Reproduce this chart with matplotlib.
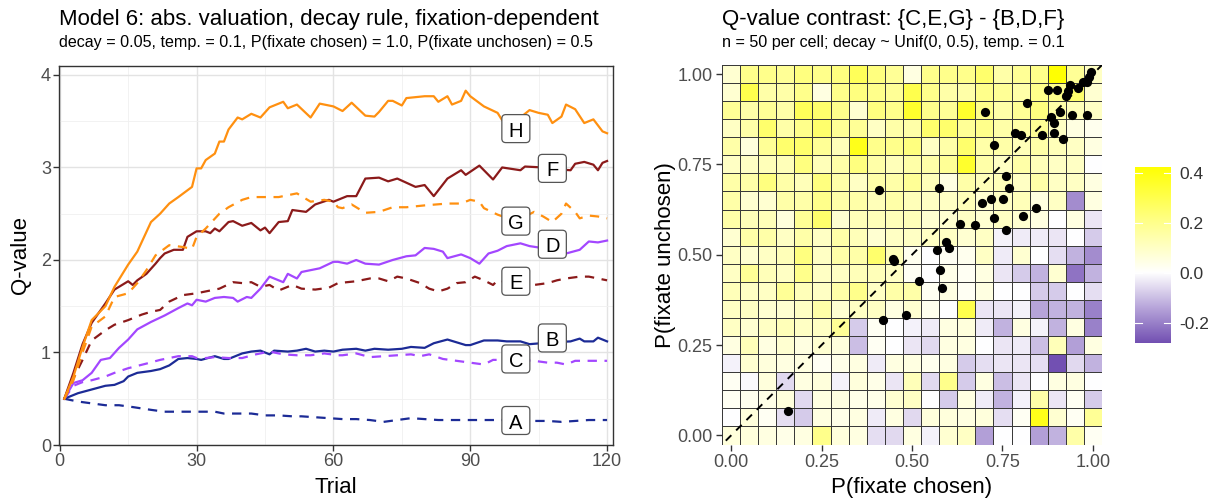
import numpy as np
import matplotlib
matplotlib.use('Agg')
import matplotlib.pyplot as plt
from matplotlib.colors import LinearSegmentedColormap, Normalize
from matplotlib.patches import FancyBboxPatch

plt.rcParams['font.family'] = ['Liberation Sans', 'DejaVu Sans']

# ---------------- left panel data ----------------
A_t = [1,4,7,10,13,16,20,23,26,29,32,34,36,39,42,45,48,51,53,56,59,62,65,68,71,74,77,80,83,85,88,91,94,100,104,107,110,113,116,120]
A_q = [0.50,0.47,0.45,0.43,0.43,0.41,0.38,0.36,0.36,0.36,0.36,0.36,0.34,0.34,0.34,0.32,0.32,0.31,0.31,0.30,0.29,0.28,0.28,0.27,0.25,0.27,0.29,0.28,0.27,0.27,0.27,0.27,0.27,0.27,0.26,0.26,0.25,0.26,0.27,0.27]

B_t = [1,2,4,7,10,12,14,15,17,20,22,24,26,28,30,31,34,36,37,40,42,44,46,47,50,52,54,56,58,60,62,65,67,69,72,75,77,80,82,85,87,89,90,93,96,98,101,103,108,112,114,115,117,118,120]
B_q = [0.50,0.52,0.56,0.60,0.64,0.65,0.69,0.74,0.78,0.80,0.82,0.86,0.93,0.94,0.93,0.92,0.96,0.93,0.93,0.99,1.01,1.02,0.98,1.02,1.01,1.02,1.04,1.01,1.02,1.01,1.03,1.04,1.02,1.04,1.03,1.04,1.06,1.05,1.10,1.14,1.11,1.08,1.08,1.13,1.13,1.12,1.12,1.09,1.11,1.12,1.15,1.12,1.12,1.16,1.12]

C_t = [1,3,5,7,10,12,15,19,22,26,29,30,32,34,37,40,43,46,49,52,55,58,61,62,65,68,71,74,77,79,81,84,87,90,93,95,100,104,107,109,111,113,115,118,120]
C_q = [0.50,0.64,0.68,0.70,0.74,0.78,0.83,0.88,0.92,0.96,0.96,0.94,0.94,0.95,0.94,0.94,0.98,1.01,0.98,0.97,0.97,0.99,0.97,0.97,0.99,0.95,0.96,0.97,0.98,0.96,0.98,0.93,0.91,0.89,0.87,0.92,0.92,0.91,0.89,0.89,0.87,0.91,0.91,0.91,0.91]

D_t = [1,3,5,7,9,11,13,15,17,20,23,26,28,29,30,32,34,36,38,39,41,42,44,46,48,49,50,52,53,55,57,60,61,63,65,67,70,73,76,78,80,82,84,85,88,90,92,94,96,98,101,103,107,111,114,116,118,120]
D_q = [0.50,0.67,0.70,0.78,0.92,0.94,1.05,1.14,1.25,1.33,1.40,1.48,1.53,1.51,1.57,1.55,1.59,1.60,1.59,1.55,1.60,1.59,1.69,1.82,1.78,1.76,1.85,1.80,1.87,1.89,1.91,1.98,1.98,1.96,2.00,1.96,1.95,2.00,2.04,2.05,2.13,2.12,2.09,2.02,2.06,2.02,1.96,2.07,2.10,2.15,2.18,2.15,2.12,2.07,2.11,2.20,2.19,2.21]

E_t = [1,3,5,7,10,12,15,18,20,22,24,27,30,32,35,38,40,42,44,46,48,51,53,56,59,61,63,65,68,70,72,74,76,79,81,83,85,87,89,91,93,95,96,100,104,107,109,111,114,116,118,120]
E_q = [0.50,0.72,0.92,1.13,1.24,1.30,1.35,1.41,1.44,1.46,1.55,1.62,1.64,1.66,1.69,1.76,1.75,1.76,1.71,1.73,1.67,1.73,1.69,1.68,1.70,1.75,1.76,1.77,1.80,1.80,1.77,1.82,1.80,1.75,1.69,1.66,1.69,1.75,1.76,1.82,1.78,1.73,1.78,1.74,1.73,1.75,1.78,1.80,1.82,1.82,1.80,1.78]

F_t = [1,3,5,7,10,12,15,16,17,19,21,22,23,25,27,28,30,32,33,34,35,37,38,40,42,44,45,46,48,50,51,54,56,59,60,63,65,67,70,72,74,78,80,82,85,88,89,92,95,97,101,102,106,109,112,113,115,117,118,119,120]
F_q = [0.50,0.78,1.09,1.32,1.53,1.68,1.77,1.73,1.78,1.85,1.96,2.02,2.07,2.11,2.11,2.25,2.31,2.31,2.29,2.34,2.31,2.41,2.42,2.37,2.40,2.32,2.35,2.29,2.41,2.42,2.54,2.52,2.60,2.65,2.63,2.69,2.69,2.88,2.89,2.85,2.88,2.79,2.81,2.69,2.88,2.97,2.92,3.02,2.87,3.00,2.97,3.01,3.00,2.98,2.97,3.04,3.06,3.03,2.97,3.05,3.07]

G_t = [1,3,5,7,10,12,15,17,19,21,24,27,29,30,32,35,37,40,42,45,48,52,55,58,60,61,62,64,67,70,73,76,80,85,88,90,92,93,96,100,104,106,108,110,111,113,114,116,118,120]
G_q = [0.50,0.70,1.00,1.28,1.39,1.60,1.64,1.75,1.89,2.05,2.16,2.14,2.12,2.25,2.34,2.50,2.57,2.65,2.68,2.68,2.68,2.72,2.63,2.65,2.63,2.57,2.56,2.60,2.51,2.52,2.57,2.57,2.59,2.61,2.61,2.65,2.63,2.56,2.49,2.42,2.52,2.47,2.41,2.50,2.61,2.52,2.45,2.48,2.47,2.45]

H_t = [1,3,5,7,10,12,15,17,20,22,24,26,29,30,31,32,34,35,36,37,39,40,42,44,46,49,50,52,55,57,60,62,64,67,69,70,72,73,75,76,80,82,83,85,86,88,89,90,93,96,97,100,103,105,107,108,110,111,113,115,117,119,120]
H_q = [0.50,0.74,1.06,1.35,1.50,1.71,1.95,2.09,2.41,2.50,2.61,2.68,2.79,2.99,2.99,3.08,3.15,3.28,3.28,3.41,3.54,3.52,3.58,3.54,3.65,3.71,3.64,3.68,3.54,3.69,3.66,3.61,3.70,3.56,3.55,3.60,3.72,3.72,3.67,3.75,3.77,3.77,3.71,3.77,3.68,3.72,3.83,3.77,3.66,3.59,3.51,3.50,3.62,3.59,3.57,3.48,3.55,3.68,3.63,3.48,3.52,3.39,3.37]

series_names = ['A', 'B', 'C', 'D', 'E', 'F', 'G', 'H']
series_t = [A_t, B_t, C_t, D_t, E_t, F_t, G_t, H_t]
series_q = [A_q, B_q, C_q, D_q, E_q, F_q, G_q, H_q]
series_colors = ['#1C2B96', '#1C2B96', '#A347FF', '#A347FF',
                 '#8B1A1A', '#8B1A1A', '#FF9010', '#FF9010']
series_dashed = [True, False, True, False, True, False, True, False]
label_x = [100, 108, 100, 108, 100, 108, 100, 100]
label_y = [0.265, 1.157, 0.93, 2.17, 1.77, 2.99, 2.42, 3.42]

# ---------------- right panel data ----------------
grid_vals = [0.00, 0.05, 0.10, 0.15, 0.20, 0.25, 0.30, 0.35, 0.40, 0.45, 0.50,
             0.55, 0.60, 0.65, 0.70, 0.75, 0.80, 0.85, 0.90, 0.95, 1.00]
# rows listed from top (P unchosen = 1.00) to bottom (0.00); columns P chosen 0 -> 1
contrast_rows_top_down = [
    [0.08,0.20,0.20,0.18,0.22,0.20,0.22,0.28,0.22,0.18,0.05,0.20,0.20,0.20,0.25,0.15,0.18,0.20,0.42,0.18,0.10],
    [0.08,0.30,0.15,0.15,0.20,0.05,0.20,0.22,0.20,0.18,0.30,0.20,0.15,0.15,0.20,0.18,0.15,0.20,0.20,0.25,0.08],
    [0.18,0.15,0.18,0.15,0.28,0.25,0.20,0.08,0.22,0.20,0.35,0.20,0.18,0.35,0.20,0.15,0.18,0.22,0.15,0.12,0.10],
    [0.10,0.15,0.25,0.15,0.20,0.25,0.18,0.18,0.10,0.15,0.15,0.25,0.25,0.18,0.20,0.15,0.15,0.18,0.10,0.05,0.03],
    [0.15,0.06,0.18,0.25,0.25,0.18,0.12,0.38,0.20,0.20,0.22,0.10,0.15,0.25,0.15,0.15,0.12,0.15,0.12,0.10,0.05],
    [0.10,0.10,0.12,0.12,0.22,0.12,0.15,0.22,0.15,0.12,0.15,0.15,0.18,0.35,0.15,0.10,0.15,0.12,0.10,0.10,0.00],
    [0.15,0.15,0.22,0.15,0.12,0.22,0.15,0.10,0.15,0.15,0.18,0.12,0.05,0.15,0.12,0.12,0.10,0.15,0.10,0.10,0.05],
    [0.15,0.08,0.08,0.15,0.15,0.20,0.15,0.15,0.12,0.15,0.12,0.10,0.10,0.12,0.08,0.10,0.12,0.05,0.10,-0.18,0.05],
    [0.15,0.12,0.12,0.06,0.18,0.25,0.08,0.12,0.12,0.12,0.12,0.08,0.08,0.10,0.08,0.10,0.08,0.05,0.00,0.05,-0.04],
    [0.08,0.15,0.15,0.10,0.15,0.10,0.15,0.12,0.08,0.10,0.10,0.10,0.10,0.08,0.10,-0.02,-0.03,-0.03,-0.04,0.00,-0.08],
    [0.10,0.08,0.10,0.12,0.22,0.10,0.15,0.15,0.25,0.12,0.03,0.00,0.02,0.03,0.10,-0.03,0.08,0.00,-0.05,-0.12,-0.18],
    [0.10,0.18,0.12,0.10,0.20,0.10,0.10,0.12,0.12,0.10,0.02,0.00,0.04,0.02,0.05,-0.04,-0.08,-0.12,0.08,-0.22,-0.12],
    [0.12,0.10,0.10,0.18,0.12,0.10,0.15,0.20,0.10,0.15,0.15,0.02,0.05,0.02,0.05,0.00,0.00,-0.08,-0.08,0.00,-0.05],
    [0.10,0.10,0.08,0.08,0.10,0.15,0.08,0.10,0.10,0.05,0.08,0.03,0.00,0.30,-0.04,-0.04,-0.02,-0.14,-0.12,-0.12,-0.20],
    [0.10,0.08,0.10,0.12,0.10,0.10,0.18,-0.08,0.02,0.00,-0.02,-0.03,0.05,0.06,-0.03,-0.12,0.05,-0.02,-0.12,0.05,-0.20],
    [0.05,0.12,0.05,0.08,0.05,0.08,0.06,-0.10,0.02,0.00,-0.04,-0.06,0.05,0.05,0.00,-0.04,-0.03,-0.10,0.12,-0.15,0.05],
    [-0.02,0.08,0.06,0.05,0.05,0.02,0.04,0.05,-0.03,0.05,0.05,0.03,0.05,-0.08,-0.05,-0.04,-0.04,-0.05,-0.28,-0.06,-0.12],
    [0.02,-0.01,0.06,-0.06,0.05,0.06,-0.02,0.06,0.04,-0.04,0.12,-0.06,0.20,-0.08,0.05,-0.10,-0.04,0.00,0.05,0.05,0.00],
    [0.02,0.03,0.04,0.06,-0.06,0.05,0.05,0.04,0.04,0.08,0.10,0.00,-0.08,0.05,-0.03,-0.12,-0.02,0.15,-0.04,0.02,-0.08],
    [0.00,0.06,0.02,-0.05,-0.08,0.05,0.04,0.05,-0.03,0.05,-0.06,0.06,0.06,0.05,0.06,-0.05,0.02,0.38,0.08,0.02,0.18],
    [0.06,0.06,0.05,0.04,0.05,0.20,0.06,0.05,-0.05,-0.06,0.05,-0.02,0.08,0.10,-0.15,0.00,0.00,-0.15,-0.12,0.15,0.02],
]

pt_chosen = [0.994,0.990,0.983,0.973,0.960,0.936,0.932,0.926,0.875,0.900,0.817,0.701,0.909,0.942,0.984,
             0.884,0.891,0.892,0.917,0.859,0.784,0.802,0.727,0.759,0.768,0.575,0.410,0.693,0.718,0.751,
             0.842,0.808,0.727,0.634,0.674,0.759,0.594,0.569,0.602,0.447,0.451,0.576,0.518,0.584,0.484,
             0.419,0.158]
pt_unchosen = [1.005,0.992,0.979,0.977,0.962,0.970,0.952,0.938,0.955,0.955,0.921,0.895,0.895,0.887,0.887,
               0.880,0.864,0.838,0.820,0.830,0.838,0.830,0.804,0.719,0.686,0.686,0.679,0.644,0.653,0.653,
               0.628,0.608,0.603,0.585,0.581,0.569,0.535,0.512,0.519,0.487,0.483,0.459,0.427,0.409,0.334,
               0.319,0.069]

cbar_ticks = [-0.2, 0.0, 0.2, 0.4]

# ---------------- figure ----------------
W, H = 1215, 498
fig = plt.figure(figsize=(W / 100, H / 100), dpi=100)

def px_axes(x0, y0, x1, y1):
    return fig.add_axes([x0 / W, 1 - y1 / H, (x1 - x0) / W, (y1 - y0) / H])

TICK_COL = '#4D4D4D'
TITLE_FS = 16
SUB_FS = 11.6
AXT_FS = 16
TICK_FS = 13
TITLE_BASE = 25
SUB_BASE = 47

# ---- left panel ----
L_X0, L_Y0, L_X1, L_Y1 = 59.3, 65.7, 613, 445
ax1 = px_axes(L_X0, L_Y0, L_X1, L_Y1)
xlo, xhi, ylo, yhi = -0.1, 121.3, 0, 4.1
ax1.set_xlim(xlo, xhi)
ax1.set_ylim(ylo, yhi)
ax1.set_xticks([0, 30, 60, 90, 120])
ax1.set_yticks([0, 1, 2, 3, 4])
ax1.set_xticks([15, 45, 75, 105], minor=True)
ax1.set_yticks([0.5, 1.5, 2.5, 3.5], minor=True)
ax1.grid(which='major', color='#E3E3E3', lw=1.0)
ax1.grid(which='minor', color='#F0F0F0', lw=0.6)
ax1.set_axisbelow(True)
for s in ax1.spines.values():
    s.set_color('#333333')
    s.set_linewidth(1.0)
ax1.tick_params(which='major', length=4, width=1.0, color='#333333',
                labelsize=TICK_FS, labelcolor=TICK_COL, pad=2)
ax1.tick_params(which='minor', length=0)

for name, t, q, c, dsh in zip(series_names, series_t, series_q, series_colors, series_dashed):
    if dsh:
        ax1.plot(t, q, color=c, lw=1.6, dashes=(4.2, 3.4), solid_capstyle='butt', zorder=3)
    else:
        ax1.plot(t, q, color=c, lw=1.6, zorder=3)

# label boxes of fixed pixel size
x_per_px = (xhi - xlo) / (L_X1 - L_X0)
y_per_px = (yhi - ylo) / (L_Y1 - L_Y0)
box_px = 28
bw, bh = box_px * x_per_px, box_px * y_per_px
for name, lx, ly in zip(series_names, label_x, label_y):
    patch = FancyBboxPatch((lx - bw / 2, ly - bh / 2), bw, bh,
                           boxstyle='round,pad=0,rounding_size=%f' % (4 * x_per_px),
                           mutation_aspect=y_per_px / x_per_px,
                           fc='white', ec='#555555', lw=0.9, zorder=5)
    ax1.add_patch(patch)
    ax1.text(lx, ly - 0.6 * y_per_px, name, fontsize=14.5, ha='center', va='center_baseline',
             zorder=6)

ax1.set_xlabel('Trial', fontsize=AXT_FS, labelpad=5)
ax1.set_ylabel('Q-value', fontsize=AXT_FS, labelpad=7)

fig.text(59 / W, 1 - TITLE_BASE / H, 'Model 6: abs. valuation, decay rule, fixation-dependent',
         fontsize=TITLE_FS, ha='left', va='baseline')
fig.text(59 / W, 1 - SUB_BASE / H, 'decay = 0.05, temp. = 0.1, P(fixate chosen) = 1.0, P(fixate unchosen) = 0.5',
         fontsize=SUB_FS, ha='left', va='baseline')

# ---- right panel ----
ax2 = px_axes(722, 65, 1102, 444.5)
Z = np.array(contrast_rows_top_down)[::-1]
gv = np.array(grid_vals)
edges = np.concatenate([gv - 0.025, [gv[-1] + 0.025]])
vmin, vmax = -0.28, 0.424
wpos = (0 - vmin) / (vmax - vmin)
cmap = LinearSegmentedColormap.from_list(
    'pw', [(0.0, '#7250B2'), (wpos * 0.5, '#B7A5DA'), (wpos, '#FFFFFF'),
           (wpos + (1 - wpos) * 0.5, '#FFFF84'), (1.0, '#FFFF00')])
norm = Normalize(vmin=vmin, vmax=vmax)
ax2.pcolormesh(edges, edges, Z, cmap=cmap, norm=norm, edgecolors='#3A3A3A',
               linewidth=0.5, zorder=1)
ax2.plot([-0.1, 1.1], [-0.1, 1.1], color='black', lw=1.4, dashes=(4, 3.5), zorder=2)
ax2.scatter(pt_chosen, pt_unchosen, s=44, color='black', zorder=3, lw=0)
ax2.set_xlim(-0.025, 1.025)
ax2.set_ylim(-0.025, 1.025)
ticks = [0, 0.25, 0.5, 0.75, 1.0]
ax2.set_xticks(ticks)
ax2.set_yticks(ticks)
ax2.set_xticklabels(['0.00', '0.25', '0.50', '0.75', '1.00'])
ax2.set_yticklabels(['0.00', '0.25', '0.50', '0.75', '1.00'])
for s in ax2.spines.values():
    s.set_visible(False)
ax2.tick_params(length=4, width=1.0, color='#333333', labelsize=TICK_FS,
                labelcolor=TICK_COL, pad=3)
ax2.set_xlabel('P(fixate chosen)', fontsize=AXT_FS, labelpad=4)
ax2.set_ylabel('P(fixate unchosen)', fontsize=AXT_FS, labelpad=1)

fig.text(722 / W, 1 - TITLE_BASE / H, 'Q-value contrast: {C,E,G} - {B,D,F}',
         fontsize=TITLE_FS, ha='left', va='baseline')
fig.text(722 / W, 1 - SUB_BASE / H, 'n = 50 per cell; decay ~ Unif(0, 0.5), temp. = 0.1',
         fontsize=SUB_FS, ha='left', va='baseline')

# ---- colorbar ----
cax = px_axes(1135, 167, 1171, 343)
grad = np.linspace(vmin, vmax, 256).reshape(-1, 1)
cax.imshow(grad, aspect='auto', origin='lower', cmap=cmap, norm=norm,
           extent=[0, 1, vmin, vmax])
cax.set_xlim(0, 1)
cax.set_ylim(vmin, vmax)
for tv in cbar_ticks:
    cax.plot([0, 0.2], [tv, tv], color='white', lw=0.8)
    cax.plot([0.8, 1], [tv, tv], color='white', lw=0.8)
cax.set_xticks([])
cax.yaxis.tick_right()
cax.set_yticks(cbar_ticks)
cax.set_yticklabels(['-0.2', '0.0', '0.2', '0.4'])
cax.tick_params(axis='y', length=0, labelsize=12.5, labelcolor='#333333', pad=6)
for s in cax.spines.values():
    s.set_visible(False)

fig.savefig('out.png', dpi=100)
